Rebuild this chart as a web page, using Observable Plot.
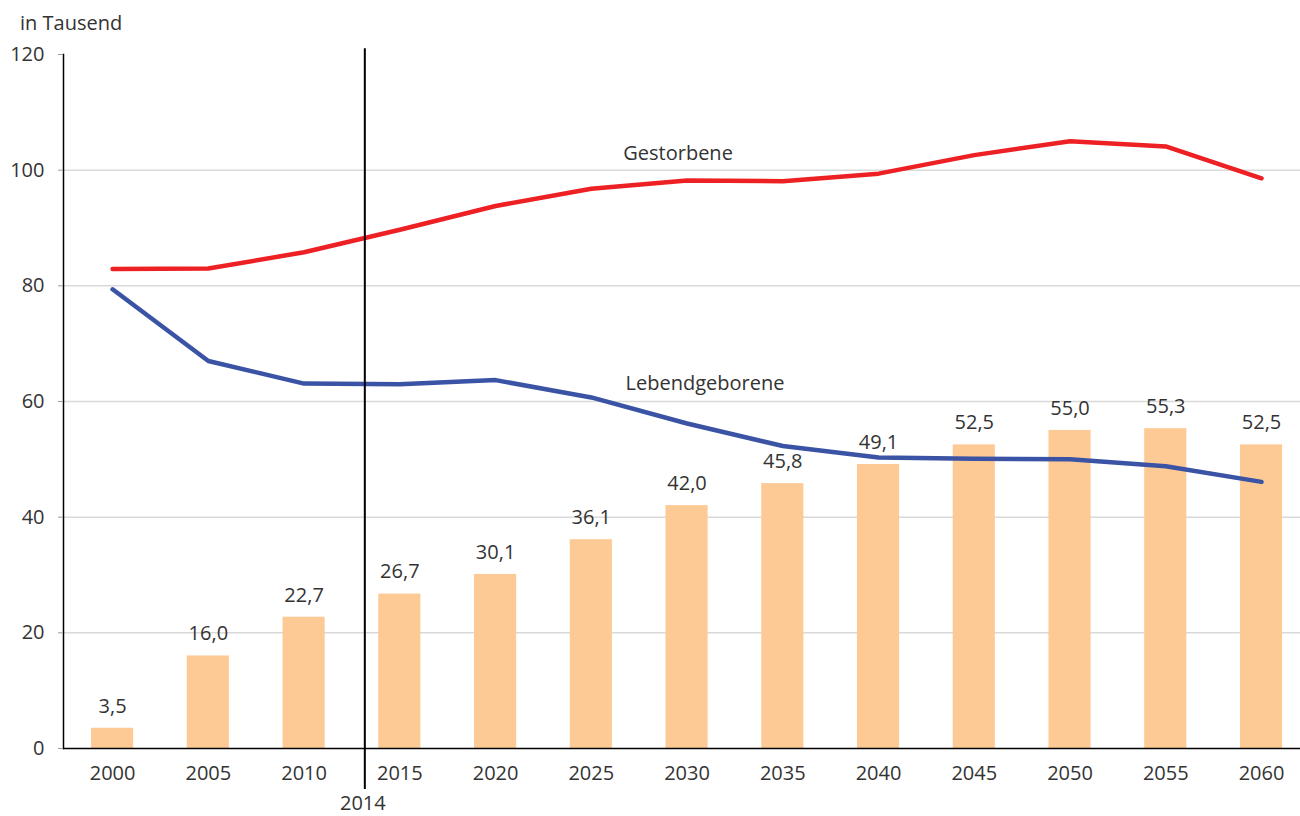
<!DOCTYPE html>
<html>
<head>
<meta charset="utf-8">
<script src="https://cdn.jsdelivr.net/npm/d3@7"></script>
<script src="https://cdn.jsdelivr.net/npm/@observablehq/plot@0.6"></script>
<style>
  body { margin: 0; background: #fff; font-family: "Open Sans", sans-serif; }
  #wrap { position: relative; width: 1300px; height: 816px; }
  #unit { position: absolute; left: 20px; top: 9px; font-size: 20px; color: #333; }
</style>
</head>
<body>
<div id="wrap"><div id="unit">in Tausend</div></div>
<script>
const years = ["2000","2005","2010","2015","2020","2025","2030","2035","2040","2045","2050","2055","2060"];
const gestorbene = [82.9, 83.0, 85.8, 89.7, 93.8, 96.8, 98.2, 98.1, 99.4, 102.6, 105.0, 104.1, 98.6];
const lebendgeborene = [79.4, 67.0, 63.1, 63.0, 63.7, 60.7, 56.2, 52.3, 50.3, 50.1, 50.0, 48.8, 46.1];
const saldo = [3.5, 16.0, 22.7, 26.7, 30.1, 36.1, 42.0, 45.8, 49.1, 52.5, 55.0, 55.3, 52.5];
const yTicks = [0, 20, 40, 60, 80, 100, 120];
const gridTicks = [20, 40, 60, 80, 100];
const markerYear = "2014";
const seriesLabels = ["Gestorbene", "Lebendgeborene"];

const rows = years.map((y, i) => ({year: y, g: gestorbene[i], l: lebendgeborene[i], s: saldo[i]}));
const fmt = v => v.toFixed(1).replace(".", ",");

const chart = Plot.plot({
  width: 1300,
  height: 816,
  marginLeft: 63,
  marginRight: 0,
  marginTop: 54,
  marginBottom: 68,
  style: {fontFamily: "Open Sans, sans-serif", fontSize: "20px", color: "#333", background: "transparent", overflow: "visible"},
  x: {type: "band", domain: years, paddingInner: 0.56, paddingOuter: 0.24, align: 0.61, round: false, label: null},
  y: {domain: [0, 120], label: null},
  marks: [
    Plot.gridY(gridTicks, {stroke: "#d9d9d9", strokeOpacity: 1, strokeWidth: 1.5}),
    Plot.barY(rows, {x: "year", y: "s", fill: "#fdca96"}),
    Plot.text(rows, {x: "year", y: "s", text: d => fmt(d.s), dy: -22, fill: "#333", fontSize: 20}),
    Plot.line(rows, {x: "year", y: "g", stroke: "#ed2024", strokeWidth: 4.5, strokeLinecap: "round", strokeLinejoin: "round"}),
    Plot.line(rows, {x: "year", y: "l", stroke: "#3a53a4", strokeWidth: 4.5, strokeLinecap: "round", strokeLinejoin: "round"}),
    Plot.text([{x: "2030", y: 102.8, t: seriesLabels[0]}], {x: "x", y: "y", text: "t", dx: -9, fill: "#333", fontSize: 20}),
    Plot.text([{x: "2030", y: 63.1, t: seriesLabels[1]}], {x: "x", y: "y", text: "t", dx: 18, fill: "#333", fontSize: 20}),
    Plot.ruleY([0], {stroke: "black", strokeWidth: 1.5}),
    Plot.frame({anchor: "left", stroke: "black", strokeWidth: 1.5}),
    Plot.ruleX([{x: "2015"}], {x: "x", y1: -7.1, y2: 121, dx: -35, stroke: "black", strokeWidth: 2}),
    Plot.text([{x: "2015", t: markerYear}], {x: "x", y: -9.6, text: "t", dx: -37, fill: "#333", fontSize: 20}),
    Plot.axisY(yTicks, {tickSize: 5, tickPadding: 14, stroke: "#999", fill: "#333", fontSize: 20, label: null}),
    Plot.axisX({tickSize: 0, tickPadding: 17, fill: "#333", fontSize: 20, label: null})
  ]
});
document.getElementById("wrap").appendChild(chart);
</script>
</body>
</html>
